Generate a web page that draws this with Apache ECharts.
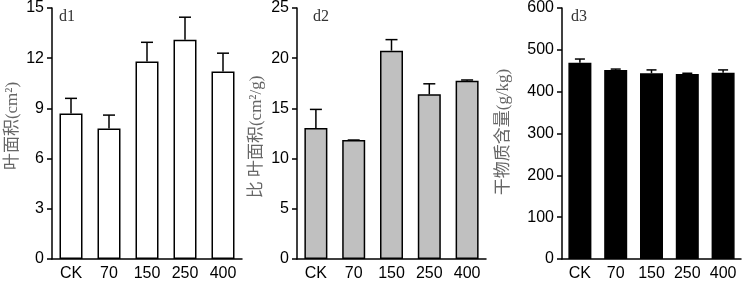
<!DOCTYPE html>
<html><head><meta charset="utf-8">
<script src="https://cdn.jsdelivr.net/npm/echarts@6/dist/echarts.min.js"></script>
<style>html,body{margin:0;padding:0;background:#fff}#c{width:748px;height:282px}</style>
</head><body><div id="c"></div>
<script>
const categories = ['CK','70','150','250','400'];
const d1Mean = [8.7, 7.8, 11.8, 13.1, 11.2];
const d1Err  = [0.9, 0.8, 1.15, 1.35, 1.1];
const d2Mean = [13.05, 11.85, 20.75, 16.4, 17.75];
const d2Err  = [1.85, 0.0, 1.1, 1.05, 0.08];
const d3Mean = [469, 452, 444, 442, 445];
const d3Err  = [9, 2, 8, 2, 7];
const yMax = [15, 25, 600];
const yStep = [3, 5, 100];
const yTitles = ['叶面积(cm²)', '比 叶面积(cm²/g)', '干物质含量(g/kg)'];
const panelTags = ['d1','d2','d3'];

const fills = ['#ffffff', '#c0c0c0', '#000000'];
const grids = [
  {left: 52, top: 8, width: 190, height: 251},
  {left: 297, top: 8, width: 189, height: 251},
  {left: 562, top: 8, width: 179, height: 251}
];
const means = [d1Mean, d2Mean, d3Mean];
const errs = [d1Err, d2Err, d3Err];

const xAxes = [], yAxes = [], series = [];
for (let i = 0; i < 3; i++) {
  xAxes.push({
    type: 'category', gridIndex: i, data: categories,
    axisLine: {lineStyle: {color: '#000', width: 1.5}},
    axisTick: {alignWithLabel: true, length: 4, lineStyle: {color: '#000', width: 1.5}},
    axisLabel: {color: '#000', fontSize: 16, fontFamily: 'Liberation Sans, Arial', margin: 7}
  });
  yAxes.push({
    type: 'value', gridIndex: i, min: 0, max: yMax[i], interval: yStep[i],
    axisLine: {show: true, lineStyle: {color: '#000', width: 1.5}},
    axisTick: {show: true, length: 5, lineStyle: {color: '#000', width: 1.5}},
    axisLabel: {color: '#000', fontSize: 16, fontFamily: 'Liberation Sans, Arial', margin: 8},
    splitLine: {show: false}
  });
  series.push({
    type: 'bar', xAxisIndex: i, yAxisIndex: i, data: means[i], barWidth: 23,
    itemStyle: {color: fills[i], borderColor: '#000', borderWidth: 1.5},
    z: 2
  });
  const m = means[i], e = errs[i];
  series.push({
    type: 'custom', xAxisIndex: i, yAxisIndex: i, z: 1,
    data: m.map((v, k) => [k, v, v + e[k]]),
    renderItem: function (params, api) {
      const x = api.value(0);
      const p0 = api.coord([x, api.value(1)]);
      const p1 = api.coord([x, api.value(2)]);
      const capHalf = i === 2 ? 5 : 6;
      return {
        type: 'group',
        children: [
          {type: 'line', shape: {x1: p0[0], y1: p0[1], x2: p1[0], y2: p1[1]}, style: {stroke: '#000', lineWidth: 1.5}},
          {type: 'line', shape: {x1: p1[0] - capHalf, y1: p1[1], x2: p1[0] + capHalf, y2: p1[1]}, style: {stroke: '#000', lineWidth: 1.5}}
        ]
      };
    }
  });
}

const titleX = [13, 257, 504];
const titleY = [126, 137, 132];
const tagX = [59, 313, 571];
const graphic = [];
for (let i = 0; i < 3; i++) {
  graphic.push({
    type: 'text', x: titleX[i], y: titleY[i], rotation: Math.PI / 2,
    style: {text: yTitles[i], fill: '#666', font: '17px "Liberation Serif", "Noto Sans CJK SC"', textAlign: 'center', textVerticalAlign: 'middle'}
  });
  graphic.push({
    type: 'text', x: tagX[i], y: 17,
    style: {text: panelTags[i], fill: '#333', font: '16px "Liberation Serif"', textAlign: 'left', textVerticalAlign: 'middle'}
  });
}

const chart = echarts.init(document.getElementById('c'), null, {renderer: 'canvas'});
chart.setOption({
  animation: false,
  grid: grids,
  xAxis: xAxes,
  yAxis: yAxes,
  series: series,
  graphic: graphic
});
</script></body></html>
